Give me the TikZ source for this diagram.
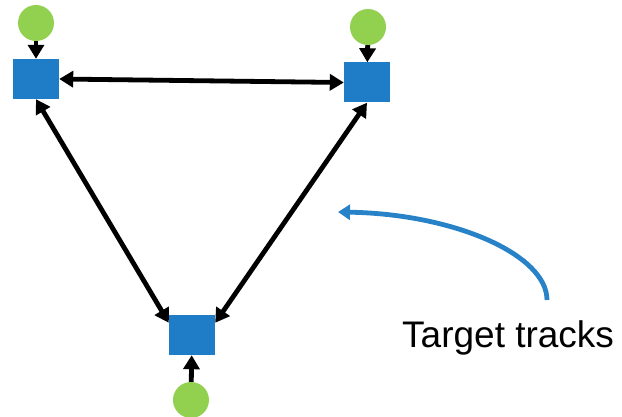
\documentclass[tikz,border=0pt]{standalone}
\usepackage{fontspec}
\setmainfont{Liberation Sans}
\usetikzlibrary{arrows.meta}
\definecolor{sqblue}{RGB}{31,125,200}
\definecolor{arrblue}{RGB}{40,130,200}
\definecolor{dotgreen}{RGB}{146,208,80}
\begin{document}
\begin{tikzpicture}[x=1pt,y=-1pt,
  sq/.style={rectangle,fill=sqblue,minimum width=46pt,minimum height=40pt,inner sep=0pt,draw=none},
  dot/.style={circle,fill=dotgreen,minimum size=36pt,inner sep=0pt,draw=none},
  link/.style={line width=4.8pt,{Triangle[length=14pt,width=16pt]}-{Triangle[length=14pt,width=16pt]}},
  feed/.style={line width=4.8pt,-{Triangle[length=14pt,width=16pt]}},
  curv/.style={line width=4.8pt,arrblue,-{Triangle[length=12pt,width=15pt]}}]
\useasboundingbox (0,0) rectangle (622,417);
\node[sq] (tl) at (36,79) {};
\node[sq] (tr) at (367,82.5) {};
\node[sq] (bot) at (192,335) {};
\node[dot] (dtl) at (36,23) {};
\node[dot] (dtr) at (368,27) {};
\node[dot] (dbot) at (191,400) {};
\draw[feed] (dtl) -- (tl);
\draw[feed] (dtr) -- (tr);
\draw[feed] (dbot) -- (bot);
\draw[link] (tl.east) -- (tr.west);
\draw[link] (tl.south) -- ([yshift=-8pt]bot.north west);
\draw[link] (tr.south) -- ([yshift=-8pt]bot.north east);
\coordinate (cs) at (547,300);
\coordinate (ce) at (338,212);
\draw[curv] (cs) .. controls (547,255) and (455,214) .. (ce);
\node[anchor=base west,font=\fontsize{37}{42}\selectfont,inner sep=0pt] (lbl) at (402,347) {Target tracks};
\end{tikzpicture}
\end{document}
